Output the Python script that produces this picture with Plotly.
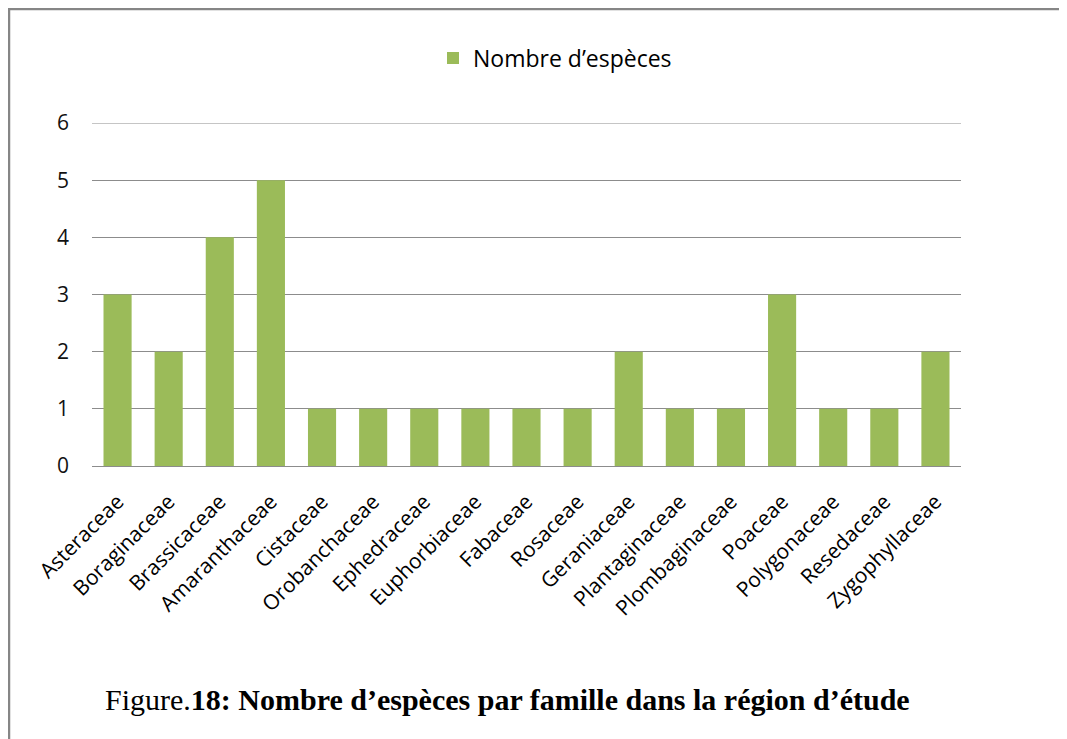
import plotly.graph_objects as go

families = [
    "Asteraceae", "Boraginaceae", "Brassicaceae", "Amaranthaceae", "Cistaceae",
    "Orobanchaceae", "Ephedraceae", "Euphorbiaceae", "Fabaceae", "Rosaceae",
    "Geraniaceae", "Plantaginaceae", "Plombaginaceae", "Poaceae", "Polygonaceae",
    "Resedaceae", "Zygophyllaceae",
]
n_species = [3, 2, 4, 5, 1, 1, 1, 1, 1, 1, 2, 1, 1, 3, 1, 1, 2]
y_ticks = [0, 1, 2, 3, 4, 5, 6]

_GREEN = "#9bbb59"
_GRID = "#8c8c8c"
_FONT = "Open Sans, Noto Sans, sans-serif"

# the page body adds an 8px offset, so figure pixels = screen pixels - 8
OFF = 8
W, H = 1067, 739
L, R, T, B = 92 - OFF, W - (961 - OFF), 123 - OFF, H - (466 - OFF)
pw, ph = W - L - R, H - T - B


def px_x(x):
    return (x - OFF - L) / pw


def px_y(y):
    return 1 - (y - OFF - T) / ph


fig = go.Figure()
fig.add_trace(
    go.Bar(
        x=families,
        y=n_species,
        name="Nombre d’espèces",
        marker=dict(color=_GREEN, line=dict(width=0)),
        showlegend=True,
    )
)

fig.update_xaxes(
    tickangle=-45,
    tickfont=dict(family=_FONT, size=21, color="#000"),
    showline=True,
    linecolor=_GRID,
    linewidth=1,
    ticks="",
    ticklabelstandoff=14,
)
fig.update_yaxes(
    range=[0, 6],
    tickvals=y_ticks,
    tickfont=dict(family=_FONT, size=21, color="#111"),
    showgrid=True,
    gridcolor=_GRID,
    gridwidth=1,
    zeroline=False,
    ticks="",
    ticklabelstandoff=22,
)

# top gridline sits on the range edge, where plotly drops it
fig.add_hline(y=max(y_ticks), line=dict(color=_GRID, width=1), layer="below")

# page frame lines (top and left)
fig.add_shape(type="line", xref="paper", yref="paper",
              x0=px_x(8), x1=px_x(OFF + W), y0=px_y(9), y1=px_y(9),
              line=dict(color="#868686", width=2.5))
fig.add_shape(type="line", xref="paper", yref="paper",
              x0=px_x(9), x1=px_x(9), y0=px_y(8), y1=px_y(OFF + H),
              line=dict(color="#868686", width=2.5))

fig.add_annotation(
    text="Figure.<b>18: Nombre d’espèces par famille dans la région d’étude</b>",
    xref="paper", yref="paper",
    x=px_x(103), y=px_y(699),
    xanchor="left", yanchor="middle",
    showarrow=False,
    font=dict(family="Liberation Serif, Times New Roman, serif", size=30, color="#000"),
)

fig.update_layout(
    width=W,
    height=H,
    margin=dict(l=L, r=R, t=T, b=B),
    plot_bgcolor="white",
    paper_bgcolor="white",
    bargap=0.45,
    legend=dict(
        orientation="h",
        x=px_x(555), y=px_y(58),
        xanchor="center", yanchor="middle",
        font=dict(family=_FONT, size=23, color="#000"),
        itemwidth=30,
    ),
)

fig.write_html("out.html")
